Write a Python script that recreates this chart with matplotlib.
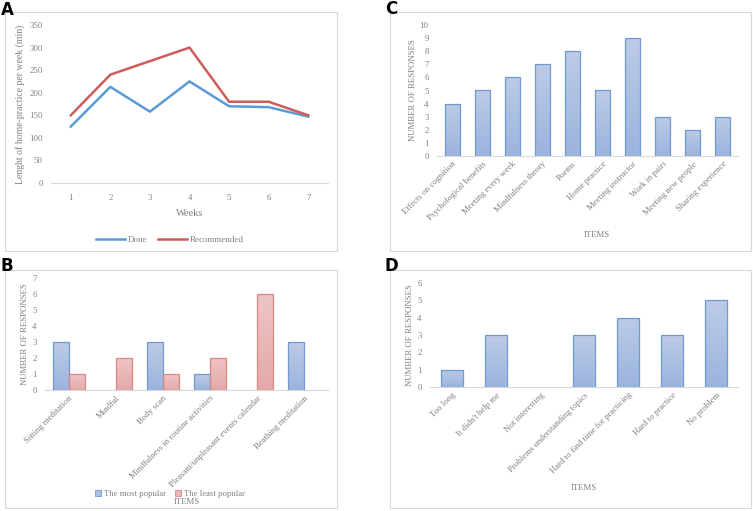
import matplotlib.pyplot as plt
import numpy as np
from matplotlib.colors import LinearSegmentedColormap
from matplotlib.patches import Rectangle

W, H = 753, 511

# Panel A data
weeks = ["1", "2", "3", "4", "5", "6", "7"]
done = [125, 213, 158, 225, 170, 168, 147]
recommended = [150, 240, 270, 300, 180, 180, 150]

# Panel B data
b_items = ["Sitting meditation", "Mindful", "Body scan",
           "Mindfulness in routine activities",
           "Pleasant/unpleasant events calendar", "Beathing meditation"]
most_popular = [3, 0, 3, 1, 0, 3]
least_popular = [1, 2, 1, 2, 6, 0]

# Panel C data
c_items = ["Effects on cognition", "Psychological benefits", "Meeting every week",
           "Mindfulness theory", "Poems", "Home practice", "Meeting instructor",
           "Work in pairs", "Meeting new people", "Sharing experience"]
c_values = [4, 5, 6, 7, 8, 5, 9, 3, 2, 3]

# Panel D data
d_items = ["Too long", "It didn't help me", "Not interesting",
           "Problems understanding topics", "Hard to find time for practicing",
           "Hard to practice", "No problem"]
d_values = [1, 3, 0, 3, 4, 3, 5]

GRAY = "#808080"
SERIF = "Liberation Serif"
FS = 6.3

BLUE_CMAP = LinearSegmentedColormap.from_list("b", ["#9bb4de", "#bccbe6"])
RED_CMAP = LinearSegmentedColormap.from_list("r", ["#e4a9a9", "#efc4c4"])
BLUE_EDGE = "#7199d4"
RED_EDGE = "#d88686"

plt.rcParams["font.family"] = SERIF


def px_axes(fig, x0, y0, x1, y1):
    return fig.add_axes([x0 / W, 1 - y1 / H, (x1 - x0) / W, (y1 - y0) / H])


def frame(fig, x0, y0, x1, y1, label, lx, ly):
    fig.patches.append(Rectangle((x0 / W, 1 - y1 / H), (x1 - x0) / W, (y1 - y0) / H,
                                 transform=fig.transFigure, fill=False,
                                 edgecolor="#d9d9d9", linewidth=0.8))
    fig.text(lx / W, 1 - ly / H, label, family="DejaVu Sans", fontweight="bold",
             fontsize=12, ha="left", va="top", color="black")


def style(ax, ymax, ystep):
    for s in ("top", "right", "left"):
        ax.spines[s].set_visible(False)
    ax.spines["bottom"].set_color("#d9d9d9")
    ax.spines["bottom"].set_linewidth(0.8)
    ax.set_ylim(0, ymax)
    ax.set_yticks(np.arange(0, ymax + 0.1, ystep))
    ax.tick_params(axis="y", length=0, labelsize=FS, labelcolor=GRAY, pad=6)
    ax.tick_params(axis="x", length=0, labelsize=FS, labelcolor=GRAY)


def gradient_bars(ax, xs, heights, width, cmap, edge):
    bars = ax.bar(xs, heights, width=width, facecolor="none", edgecolor=edge,
                  linewidth=0.9, zorder=3)
    grad = np.linspace(0, 1, 64).reshape(-1, 1)
    for b, h in zip(bars, heights):
        if h <= 0:
            b.set_visible(False)
            continue
        x0 = b.get_x()
        im = ax.imshow(grad, cmap=cmap, aspect="auto", origin="lower",
                       extent=(x0, x0 + b.get_width(), 0, h), zorder=2)
        im.set_clip_path(b)
    return bars


fig = plt.figure(figsize=(W / 100, H / 100), dpi=100)

# ---- Panel A
frame(fig, 5, 12, 337, 251, "A", 1, 1)
ax = px_axes(fig, 51, 25, 328, 183)
xa = np.arange(len(weeks)) + 0.5
ax.plot(xa, done, color="#5b9bd5", linewidth=1.8, label="Done")
ax.plot(xa, recommended, color="#cd5c5c", linewidth=1.8, label="Recommended")
ax.set_xlim(0, len(weeks))
style(ax, 350, 50)
ax.set_xticks(xa, weeks)
ax.tick_params(axis="x", pad=8)
ax.set_xlabel("Weeks", fontsize=7.5, color=GRAY, labelpad=5)
ax.set_ylabel("Lenght of home-practice per week (min)", fontsize=7, color=GRAY,
              labelpad=3)
ax.legend(loc="upper center", bbox_to_anchor=(0.43, -0.28), ncol=2, frameon=False,
          fontsize=6.5, labelcolor=GRAY, handlelength=3.2, columnspacing=1.2,
          handletextpad=0.3)

# ---- Panel B
frame(fig, 5, 270, 337, 508, "B", 1, 257)
ax = px_axes(fig, 45, 278, 328, 390)
xb = np.arange(len(b_items)) + 0.5
bw = 0.34
gradient_bars(ax, xb - bw / 2, most_popular, bw, BLUE_CMAP, BLUE_EDGE)
gradient_bars(ax, xb + bw / 2, least_popular, bw, RED_CMAP, RED_EDGE)
ax.set_xlim(0, len(b_items))
style(ax, 7, 1)
ax.set_xticks(xb, b_items, rotation=45, ha="right", rotation_mode="anchor")
ax.tick_params(axis="x", pad=3)
ax.set_ylabel("NUMBER OF RESPONSES", fontsize=6.3, color=GRAY, labelpad=2)
fig.text(187 / W, 1 - 502 / H, "ITEMS", fontsize=6.3, color=GRAY, ha="center",
         va="center")
hb = [Rectangle((0, 0), 1, 1, facecolor="#a9bfe3", edgecolor=BLUE_EDGE, lw=0.6),
      Rectangle((0, 0), 1, 1, facecolor="#e9b6b6", edgecolor=RED_EDGE, lw=0.6)]
fig.legend(hb, ["The most popular", "The least popular"], loc="center",
           bbox_to_anchor=(170 / W, 1 - 494 / H), ncol=2, frameon=False,
           fontsize=6.3, labelcolor=GRAY, handlelength=0.7, handleheight=0.7,
           handletextpad=0.3, columnspacing=1.0)

# ---- Panel C
frame(fig, 390, 12, 751, 251, "C", 385, 0)
ax = px_axes(fig, 437, 25, 738, 156)
xc = np.arange(len(c_items)) + 0.5
gradient_bars(ax, xc, c_values, 0.5, BLUE_CMAP, BLUE_EDGE)
ax.set_xlim(0, len(c_items))
style(ax, 10, 1)
ax.set_xticks(xc, c_items, rotation=45, ha="right", rotation_mode="anchor")
ax.tick_params(axis="x", pad=3)
ax.set_ylabel("NUMBER OF RESPONSES", fontsize=6.3, color=GRAY, labelpad=2)
fig.text(597 / W, 1 - 235 / H, "ITEMS", fontsize=6.3, color=GRAY, ha="center",
         va="center")

# ---- Panel D
frame(fig, 390, 270, 751, 508, "D", 385, 257)
ax = px_axes(fig, 430, 283, 738, 387)
xd = np.arange(len(d_items)) + 0.5
gradient_bars(ax, xd, d_values, 0.5, BLUE_CMAP, BLUE_EDGE)
ax.set_xlim(0, len(d_items))
style(ax, 6, 1)
ax.set_xticks(xd, d_items, rotation=45, ha="right", rotation_mode="anchor")
ax.tick_params(axis="x", pad=3)
ax.set_ylabel("NUMBER OF RESPONSES", fontsize=6.3, color=GRAY, labelpad=2)
fig.text(584 / W, 1 - 488 / H, "ITEMS", fontsize=6.3, color=GRAY, ha="center",
         va="center")

fig.savefig("out.png", dpi=100)
